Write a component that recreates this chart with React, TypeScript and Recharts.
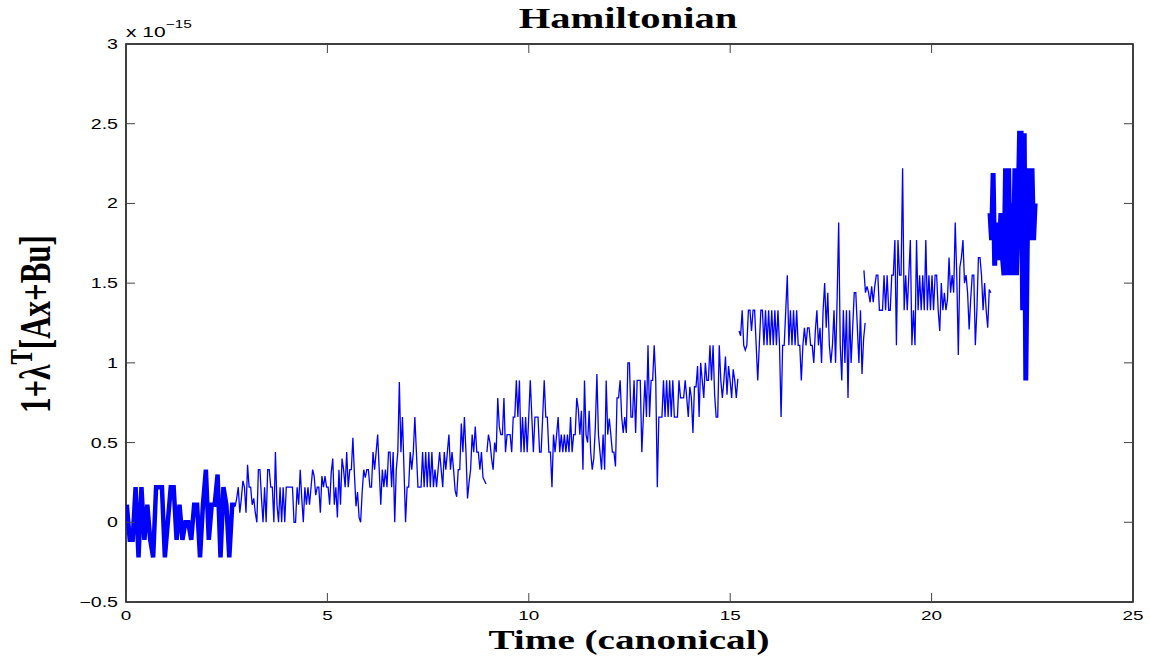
import { LineChart, Line, XAxis, YAxis, ReferenceArea } from "recharts";

// Hamiltonian residual (x 1e-15) sampled along each arc of the trajectory
const segA_span = [0.02, 2.71];
const segA = [
  0.11, -0.11, -0.11, 0.22, -0.22, 0.22, -0.11, 0.11, -0.11, -0.22, 0.22, 0.22, 0.22,
  -0.22, 0, 0.22, 0.22, -0.11, 0.11, -0.11, 0, 0, -0.11, 0.11, 0.11, -0.22, 0.11, 0.33,
  -0.11, 0.11, 0.11, 0.3, -0.22, 0.22, 0.11, -0.22, 0.11, 0.11,
];

const segB_span = [2.71, 8.94];
const segB = [
  0.1, 0.15, 0.22, 0.06, 0.15, 0.26, 0.22, 0.06, 0.36, 0.22, 0.22, 0.11, 0.15, 0.06, 0,
  0.33, 0.33, 0.15, 0, 0.22, 0, 0.33, 0.33, 0.22, 0.22, 0, 0.44, 0.11, 0, 0.22, 0, 0.22,
  0, 0.22, 0.22, 0.22, 0.22, 0.22, 0, 0, 0.22, 0.11, 0.33, 0.15, 0, 0.22, 0.11, 0.22,
  0.11, 0.22, 0.33, 0.29, 0.17, 0.22, 0.22, 0.06, 0.29, 0.22, 0.29, 0.22, 0.22, 0.11,
  0.31, 0.4, 0.11, 0.22, 0.03, 0.33, 0.11, 0.4, 0.33, 0.22, 0.44, 0.22, 0.33, 0.33, 0.53,
  0.3, 0.1,
  0.19, 0.03, 0.0, 0.19, 0.33, 0.28, 0.33, 0.33, 0.22, 0.22, 0.44, 0.33, 0.44, 0.55,
  0.33, 0.11, 0.33, 0.22, 0.33, 0.22, 0.44, 0.44, 0.22, 0.44, 0.0, 0.33, 0.44, 0.88,
  0.44, 0.66, 0.33, 0.0, 0.22, 0.22, 0.44, 0.33, 0.44, 0.66, 0.44, 0.22, 0.22, 0.22,
  0.44, 0.22, 0.44, 0.22, 0.44, 0.22, 0.44, 0.22, 0.33, 0.22, 0.33, 0.44, 0.33, 0.22,
  0.44, 0.33, 0.44, 0.55, 0.33, 0.44, 0.33, 0.2, 0.16, 0.33, 0.33, 0.62, 0.44, 0.66,
  0.44, 0.15, 0.25, 0.33, 0.55, 0.44, 0.6, 0.44, 0.44, 0.33, 0.44, 0.28, 0.26, 0.24,
];

const segC_span = [8.96, 15.19];
const segC = [
  0.44, 0.55, 0.5, 0.4, 0.33, 0.5, 0.44, 0.78, 0.6, 0.55, 0.55, 0.78, 0.44, 0.55, 0.55,
  0.55, 0.44, 0.66, 0.66, 0.89, 0.66, 0.89, 0.44, 0.66, 0.44, 0.66, 0.44, 0.66, 0.89,
  0.66, 0.44, 0.66, 0.66, 0.66, 0.44, 0.44, 0.66, 0.89, 0.66, 0.66, 0.44, 0.44, 0.22,
  0.55, 0.44, 0.55, 0.66, 0.44, 0.55, 0.44, 0.55, 0.44, 0.55, 0.44, 0.66, 0.44, 0.55,
  0.55, 0.78, 0.71, 0.55, 0.7, 0.33, 0.89, 0.55, 0.5, 0.7, 0.44, 0.33, 0.4, 0.6, 0.93,
  0.55, 0.44, 0.33, 0.55, 0.33, 0.89, 0.55, 0.65, 0.55, 0.44, 0.44, 0.35,
  0.78, 0.78, 0.89, 0.66, 0.56, 0.66, 0.56, 1.0, 1.0, 0.66, 0.66, 0.89, 0.56, 0.89, 0.89,
  0.89, 0.44, 0.66, 0.89, 0.66, 1.11, 0.66, 0.89, 0.89, 1.11, 0.89, 0.22, 0.66, 0.66,
  0.66, 0.89, 0.66, 0.89, 0.66, 0.89, 0.66, 0.89, 0.66, 0.66, 0.66, 0.89, 0.78, 0.78,
  0.78, 0.89, 0.78, 0.66, 0.85, 0.78, 0.56, 0.85, 0.85, 0.98, 0.66, 1.0, 0.89, 0.78, 1.0,
  0.89, 0.89, 1.11, 0.89, 1.11, 0.8, 0.66, 0.66, 1.11, 0.89, 0.78, 0.89, 1.04, 0.8, 0.98,
  0.89, 0.78, 0.96, 0.89, 0.78, 0.9,
];

const segD_span = [15.22, 18.35];
const segD = [
  1.2, 1.17, 1.33, 1.11, 1.08, 1.11, 1.33, 1.33, 1.2, 1.33, 1.33, 1.11, 0.89, 1.11, 1.33,
  1.33, 1.11, 1.33, 1.11, 1.33, 1.11, 1.33, 1.11, 1.33, 1.11, 1.33, 1.11, 0.66, 1.11,
  1.11, 1.33, 1.55, 1.11, 1.33, 1.11, 1.33, 1.11, 1.33, 1.11, 1.11, 0.89, 1.11, 1.22,
  1.11, 1.22, 1.22, 1.11, 1.11, 1.0, 1.2, 1.33, 1.11, 1.22, 1.0, 1.33, 1.5, 1.22, 1.44,
  1.11, 1.0, 1.11, 1.33, 1.0, 1.4, 1.88, 1.11, 0.89, 1.33, 1.0, 1.33, 0.78, 1.33, 1.0,
  1.22, 1.44, 1.44, 1.22, 1.0, 1.33, 0.93, 1.15, 1.25,
];

const segE_span = [18.32, 21.47];
const segE = [
  1.58, 1.44, 1.48, 1.44, 1.38, 1.48, 1.38, 1.48, 1.55, 1.55,
  1.33, 1.33, 1.33, 1.55, 1.33, 1.55, 1.33, 1.33, 1.55, 1.55, 1.77, 1.11, 1.77, 1.55,
  1.55, 2.22, 1.33, 1.55, 1.33, 1.55, 1.77, 1.11, 1.33, 1.11, 1.77, 1.33, 1.55, 1.33,
  1.55, 1.33, 1.77, 1.33, 1.55, 1.33, 1.55, 1.33, 1.55, 1.55, 1.33, 1.2, 1.5, 1.33, 1.44,
  1.33, 1.4, 1.66, 1.44, 1.55, 1.44, 1.88, 1.55, 1.05, 1.6, 1.66, 1.77, 1.5, 1.55, 1.44,
  1.21, 1.4, 1.55, 1.55, 1.11, 1.33, 1.66, 1.66, 1.55, 1.33, 1.5, 1.33, 1.22, 1.46, 1.44,
];

const segF_span = [21.45, 22.57];
const segF = [
  1.94, 1.77, 2.19, 1.61, 1.88, 1.66, 1.66, 1.94, 1.66, 1.55, 2.22, 1.55, 2.22, 1.55, 2.0,
  1.55, 2.22, 1.55, 1.94, 2.44, 2.44, 1.33, 2.44, 0.89, 1.77, 2.22, 1.77, 2.22, 1.77, 2.0,
];

const xTicks = [0, 5, 10, 15, 20, 25];
const yTicks = [-0.5, 0, 0.5, 1, 1.5, 2, 2.5, 3];

// plot box in page pixels
const BOX = { left: 126, top: 44, right: 1133, bottom: 602 };
const STRETCH = "scale(1.4,1)";
const BLUE = "#0000ff";

function arc(span: number[], values: number[]) {
  const n = values.length;
  return values.map((v, i) => ({
    t: span[0] + ((span[1] - span[0]) * i) / (n - 1),
    v,
  }));
}

const arcs = [
  { key: "a", data: arc(segA_span, segA), width: 4.5 },
  { key: "b", data: arc(segB_span, segB), width: 1.3 },
  { key: "c", data: arc(segC_span, segC), width: 1.3 },
  { key: "d", data: arc(segD_span, segD), width: 1.3 },
  { key: "e", data: arc(segE_span, segE), width: 1.3 },
  { key: "f", data: arc(segF_span, segF), width: 5 },
];

function XTick(props: any) {
  const { x, payload } = props;
  return (
    <g>
      <line x1={x} x2={x} y1={BOX.bottom} y2={BOX.bottom - 9} stroke="#444" />
      <line x1={x} x2={x} y1={BOX.top} y2={BOX.top + 9} stroke="#444" />
      <text
        transform={`translate(${x},620) ${STRETCH}`}
        textAnchor="middle"
        fontSize={13.5}
        fontFamily="'Liberation Sans', Arial, sans-serif"
        fill="#000"
      >
        {payload.value}
      </text>
    </g>
  );
}

function YTick(props: any) {
  const { y, payload } = props;
  const label = payload.value < 0 ? "\u2212" + Math.abs(payload.value) : String(payload.value);
  return (
    <g>
      <line x1={BOX.left} x2={BOX.left + 9} y1={y} y2={y} stroke="#444" />
      <line x1={BOX.right} x2={BOX.right - 9} y1={y} y2={y} stroke="#444" />
      <text
        transform={`translate(118,${y + 5}) ${STRETCH}`}
        textAnchor="end"
        fontSize={14}
        fontFamily="'Liberation Sans', Arial, sans-serif"
        fill="#000"
      >
        {label}
      </text>
    </g>
  );
}

export default function App() {
  return (
    <div style={{ position: "absolute", left: 0, top: 0, background: "#fff" }}>
      <LineChart
        width={1150}
        height={657}
        margin={{ top: BOX.top, right: 1150 - BOX.right, bottom: 657 - BOX.bottom - 20, left: BOX.left - 40 }}
      >
        <XAxis
          type="number"
          dataKey="t"
          domain={[0, 25]}
          ticks={xTicks}
          interval={0}
          allowDataOverflow
          height={20}
          axisLine={false}
          tickLine={false}
          tick={<XTick />}
        />
        <YAxis
          type="number"
          dataKey="v"
          domain={[-0.5, 3]}
          ticks={yTicks}
          interval={0}
          allowDataOverflow
          width={40}
          axisLine={false}
          tickLine={false}
          tick={<YTick />}
        />
        {arcs.map((a) => (
          <Line
            key={a.key}
            data={a.data}
            dataKey="v"
            type="linear"
            stroke={BLUE}
            strokeWidth={a.width}
            dot={false}
            activeDot={false}
            isAnimationActive={false}
          />
        ))}
        <ReferenceArea
          x1={0}
          x2={25}
          y1={-0.5}
          y2={3}
          fill="none"
          stroke="#000"
          strokeWidth={1.5}
        />
      </LineChart>
      <svg
        width={1150}
        height={657}
        style={{ position: "absolute", left: 0, top: 0, pointerEvents: "none" }}
      >
        <text
          transform={`translate(628,28) ${STRETCH}`}
          textAnchor="middle"
          fontSize={29}
          fontWeight="bold"
          fontFamily="'Liberation Serif', 'Times New Roman', serif"
        >
          Hamiltonian
        </text>
        <text
          transform={`translate(629,649) ${STRETCH}`}
          textAnchor="middle"
          fontSize={28}
          fontWeight="bold"
          fontFamily="'Liberation Serif', 'Times New Roman', serif"
        >
          Time (canonical)
        </text>
        <text
          transform={`translate(50,324) ${STRETCH} rotate(-90)`}
          textAnchor="middle"
          fontSize={31}
          fontWeight="bold"
          fontFamily="'Liberation Serif', 'Times New Roman', serif"
        >
          1+λ
          <tspan dy={-13} fontSize={23}>T</tspan>
          <tspan dy={13}>[Ax+Bu]</tspan>
        </text>
        <text
          transform={`translate(126,37) ${STRETCH}`}
          fontSize={15}
          fontFamily="'Liberation Sans', Arial, sans-serif"
        >
          x 10
          <tspan dy={-9} fontSize={11}>−15</tspan>
        </text>
      </svg>
    </div>
  );
}
